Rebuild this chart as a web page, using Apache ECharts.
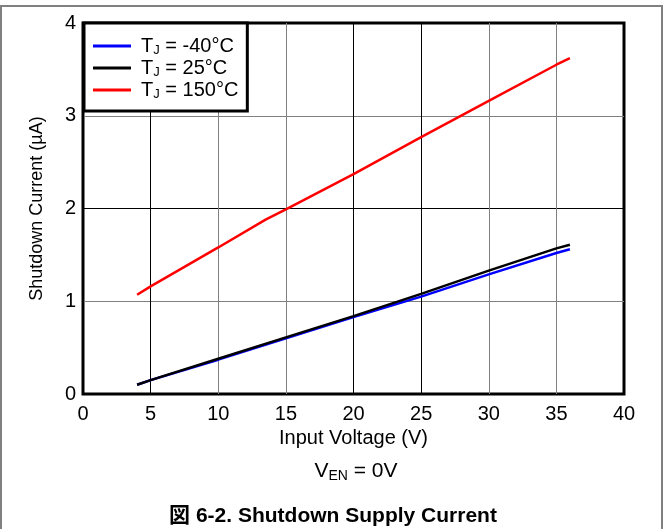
<!DOCTYPE html>
<html>
<head>
<meta charset="utf-8">
<script src="https://cdn.jsdelivr.net/npm/echarts@6/dist/echarts.min.js"></script>
<style>
html,body{margin:0;padding:0;background:#fff;}
#c{width:664px;height:529px;}
</style>
</head>
<body>
<div id="c"></div>
<script>
// ---- data ----
const xTicks = [0, 5, 10, 15, 20, 25, 30, 35, 40];
const yTicks = [0, 1, 2, 3, 4];
const xCommon = [4, 5, 10, 15, 20, 25, 30, 35, 36];
const blueVals = [0.10, 0.15, 0.37, 0.60, 0.83, 1.05, 1.29, 1.52, 1.56];
const blackVals = [0.10, 0.15, 0.38, 0.61, 0.84, 1.08, 1.33, 1.57, 1.61];
const redX = [4, 5, 10, 13.5, 15, 20, 25, 30, 35, 36];
const redVals = [1.07, 1.16, 1.58, 1.88, 1.99, 2.37, 2.77, 3.16, 3.55, 3.62];
const seriesNames = ['TJ = -40°C', 'TJ = 25°C', 'TJ = 150°C'];
const tempLabels = ['-40°C', '25°C', '150°C'];
const xName = 'Input Voltage (V)';
const yName = 'Shutdown Current (µA)';
const titleText = '図 6-2. Shutdown Supply Current';

const FONT = '"Liberation Sans", Arial, sans-serif';
const zip = (xs, ys) => xs.map((x, i) => [x, ys[i]]);

const chart = echarts.init(document.getElementById('c'), null, {renderer: 'canvas'});
const option = {
  animation: false,
  backgroundColor: '#fff',
  textStyle: {fontFamily: FONT, color: '#000'},
  grid: {
    left: 83, top: 23, width: 541, height: 371,
    show: true, borderColor: '#000', borderWidth: 3, backgroundColor: 'transparent'
  },
  xAxis: {
    type: 'value', min: xTicks[0], max: xTicks[xTicks.length - 1], interval: 5,
    name: xName, nameLocation: 'middle', nameGap: 34,
    nameTextStyle: {fontSize: 20, color: '#000', fontFamily: FONT},
    axisLine: {show: false}, axisTick: {show: false},
    axisLabel: {fontSize: 20, color: '#000', margin: 10, fontFamily: FONT},
    splitLine: {show: true, lineStyle: {width: 1,
      color: ['#000', '#000', '#808080', '#808080', '#000', '#000', '#808080', '#808080', '#000']}}
  },
  yAxis: {
    type: 'value', min: yTicks[0], max: yTicks[yTicks.length - 1], interval: 1,
    name: yName, nameLocation: 'middle', nameGap: 37, nameRotate: 90,
    nameTextStyle: {fontSize: 18, color: '#000', fontFamily: FONT},
    axisLine: {show: false}, axisTick: {show: false},
    axisLabel: {fontSize: 20, color: '#000', margin: 7, fontFamily: FONT},
    splitLine: {show: true, lineStyle: {width: 1,
      color: ['#000', '#808080', '#000', '#808080', '#000']}}
  },
  legend: {
    orient: 'vertical', left: 84, top: 23,
    backgroundColor: '#fff', borderColor: '#000', borderWidth: 3,
    padding: [13, 9, 10, 9],
    itemWidth: 38, itemHeight: 3, itemGap: 1, icon: 'rect',
    data: seriesNames,
    formatter: function (name) {
      const i = seriesNames.indexOf(name);
      return '{t|T}{s|J}{n| = ' + tempLabels[i] + '}';
    },
    textStyle: {
      fontFamily: FONT, color: '#000',
      rich: {
        t: {fontSize: 20, lineHeight: 22, padding: [0, 0, 0, 5], fontFamily: FONT, color: '#000'},
        s: {fontSize: 13, lineHeight: 13, verticalAlign: 'bottom', fontFamily: FONT, color: '#000'},
        n: {fontSize: 20, lineHeight: 22, fontFamily: FONT, color: '#000'}
      }
    }
  },
  title: [
    {
      text: '{n|V}{s|EN}{n| = 0V}',
      left: 351, top: 454, textAlign: 'center',
      textStyle: {
        fontWeight: 'normal',
        rich: {
          n: {fontSize: 21, lineHeight: 24, fontWeight: 'normal', fontFamily: FONT, color: '#000'},
          s: {fontSize: 14, lineHeight: 14, fontWeight: 'normal', verticalAlign: 'bottom', fontFamily: FONT, color: '#000'}
        }
      }
    },
    {
      text: titleText, left: 328, top: 501, textAlign: 'center',
      textStyle: {fontSize: 21, fontWeight: 'bold', color: '#000',
        fontFamily: '"Liberation Sans", Arial, "Noto Sans CJK JP", sans-serif'}
    }
  ],
  graphic: [{
    type: 'polyline', silent: true,
    shape: {points: [[1, 529], [1, 6], [662, 6], [662, 529]]},
    style: {stroke: '#808080', lineWidth: 2, fill: null}
  }],
  series: [
    {name: seriesNames[0], type: 'line', data: zip(xCommon, blueVals), showSymbol: false,
      lineStyle: {color: '#0000ff', width: 2.5}, itemStyle: {color: '#0000ff'}, z: 3},
    {name: seriesNames[1], type: 'line', data: zip(xCommon, blackVals), showSymbol: false,
      lineStyle: {color: '#000', width: 2.5}, itemStyle: {color: '#000'}, z: 4},
    {name: seriesNames[2], type: 'line', data: zip(redX, redVals), showSymbol: false,
      lineStyle: {color: '#ff0000', width: 2.5}, itemStyle: {color: '#ff0000'}, z: 4}
  ]
};
chart.setOption(option);
</script>
</body>
</html>
